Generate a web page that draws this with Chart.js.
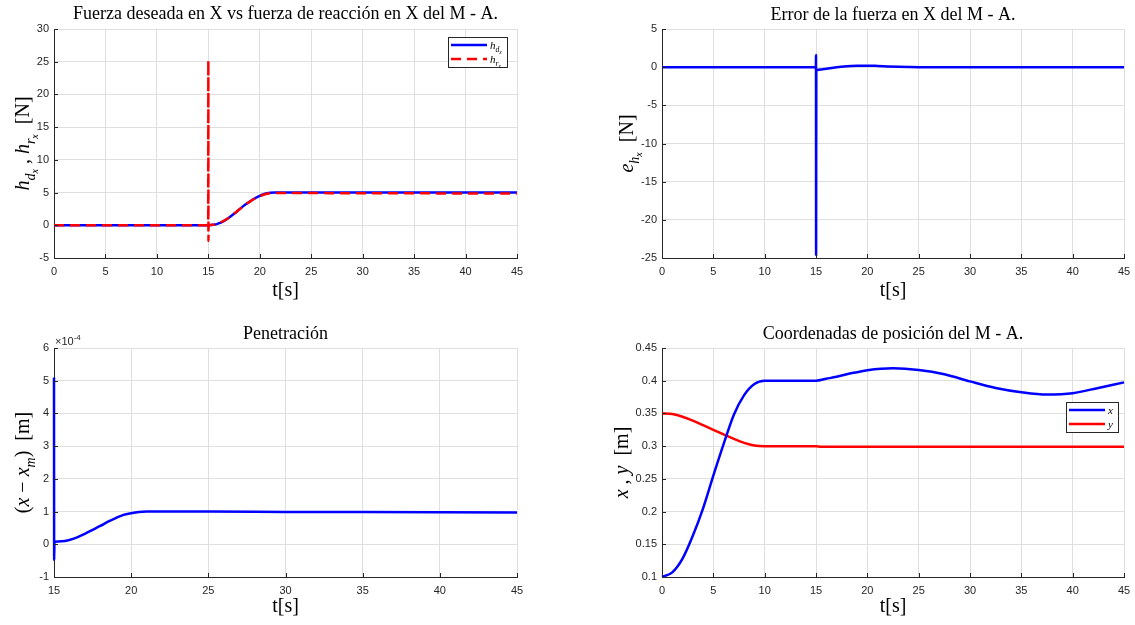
<!DOCTYPE html>
<html>
<head>
<meta charset="utf-8">
<script src="https://cdn.jsdelivr.net/npm/chart.js@4/dist/chart.umd.min.js"></script>
<style>
  body { margin: 0; background: #fff; }
  #wrap { position: relative; width: 1135px; height: 625px; }
  canvas { position: absolute; }
</style>
</head>
<body>
<div id="wrap">
  <canvas id="c1" width="565" height="310" style="left:0;top:0"></canvas>
  <canvas id="c2" width="570" height="310" style="left:565px;top:0"></canvas>
  <canvas id="c3" width="565" height="315" style="left:0;top:310px"></canvas>
  <canvas id="c4" width="570" height="315" style="left:565px;top:310px"></canvas>
</div>
<script>
// --- datos ---
// fuerza deseada / reaccion en X
const tDes = [0, 15, 15.5, 16, 16.5, 17, 17.5, 18, 18.5, 19, 19.5, 20, 20.5, 21, 21.5, 45];
const hdx  = [0, 0, 0.07, 0.3, 0.65, 1.15, 1.75, 2.4, 3.05, 3.6, 4.1, 4.5, 4.82, 4.97, 5.0, 5.0];
const tReac = [0, 14.99, 15, 15.01, 15.03, 15.5, 16, 16.5, 17, 17.5, 18, 18.5, 19, 19.5, 20, 20.5, 21, 21.5, 30, 45];
const hrx   = [0, 0, 25.2, -2.4, 0.03, 0.1, 0.32, 0.66, 1.15, 1.75, 2.4, 3.02, 3.58, 4.07, 4.45, 4.75, 4.9, 4.93, 4.9, 4.85];

// error de la fuerza
const tErr = [0, 14.99, 15, 15.01, 15.03, 15.5, 16, 16.5, 17, 18, 19, 20, 21, 22, 23, 24, 25, 45];
const ehx  = [0, 0, 1.6, -24.6, -0.42, -0.3, -0.2, -0.1, 0, 0.12, 0.18, 0.2, 0.16, 0.1, 0.05, 0.02, 0, 0];

// penetracion
const tPen = [15, 15.01, 15.03, 15.5, 16, 16.5, 17, 17.5, 18, 18.5, 19, 19.5, 20, 20.5, 21, 25, 30, 35, 40, 45];
const pen  = [5.1e-4, -0.48e-4, 0.08e-4, 0.09e-4, 0.13e-4, 0.21e-4, 0.32e-4, 0.44e-4, 0.56e-4, 0.69e-4,
              0.8e-4, 0.9e-4, 0.95e-4, 0.985e-4, 1.0e-4, 1.0e-4, 0.99e-4, 0.985e-4, 0.98e-4, 0.975e-4];

// coordenadas de posicion
const tPosX = [0, 1, 2, 3, 4, 5, 6, 7, 8, 9, 10, 15, 16, 17, 18, 19, 20, 22.5, 25, 27.5, 30, 32.5, 35, 37.5, 40, 42.5, 45];
const posX  = [0.1, 0.107, 0.128, 0.163, 0.205, 0.255, 0.303, 0.348, 0.378, 0.395, 0.4, 0.4, 0.403, 0.406, 0.41, 0.413,
               0.416, 0.419, 0.4165, 0.41, 0.399, 0.389, 0.3825, 0.379, 0.381, 0.389, 0.3975];
const tPosY = [0, 1, 2, 3, 4, 5, 6, 7, 8, 9, 10, 15, 15.5, 45];
const posY  = [0.35, 0.349, 0.345, 0.339, 0.332, 0.325, 0.318, 0.311, 0.305, 0.301, 0.3, 0.3, 0.299, 0.299];

// ticks
const ticksT45 = [0, 5, 10, 15, 20, 25, 30, 35, 40, 45];
const ticksT15 = [15, 20, 25, 30, 35, 40, 45];
const ticksF = [-5, 0, 5, 10, 15, 20, 25, 30];
const ticksE = [-25, -20, -15, -10, -5, 0, 5];
const ticksPen = [-1e-4, 0, 1e-4, 2e-4, 3e-4, 4e-4, 5e-4, 6e-4];
const ticksPos = [0.1, 0.15, 0.2, 0.25, 0.3, 0.35, 0.4, 0.45];

const SERIF = '"Liberation Serif", "DejaVu Serif", serif';
const SANS = '"Liberation Sans", Arial, sans-serif';
const GRID = '#dfdfdf';
const AXIS = '#262626';
const LW = 2.5;

Chart.defaults.font.family = SANS;

const pts = (xs, ys) => xs.map((x, i) => ({ x: x, y: ys[i] }));

// texto con subindices (tipo LaTeX)
function drawMath(ctx, parts, x, y, base, align, rotate) {
    const kinds = {
        r: { k: 1, dy: 0, it: false },
        i: { k: 1, dy: 0, it: true },
        s: { k: 0.7, dy: 0.28, it: true },
        ss: { k: 0.5, dy: 0.45, it: true }
    };
    const fontFor = kind => (kinds[kind].it ? 'italic ' : '') + (base * kinds[kind].k).toFixed(1) + 'px ' + SERIF;
    ctx.save();
    ctx.translate(x, y);
    if (rotate) ctx.rotate(-Math.PI / 2);
    let total = 0;
    parts.forEach(([t, kind]) => { ctx.font = fontFor(kind); total += ctx.measureText(t).width; });
    let cx = align === 'center' ? -total / 2 : 0;
    ctx.textBaseline = 'alphabetic';
    ctx.fillStyle = '#000';
    parts.forEach(([t, kind]) => {
        ctx.font = fontFor(kind);
        ctx.fillText(t, cx, base * 0.35 + base * kinds[kind].dy);
        cx += ctx.measureText(t).width;
    });
    ctx.restore();
}

const panelDecor = {
    id: 'panelDecor',
    afterDatasetsDraw(chart, args, opts) {
        const { ctx, chartArea: a, scales } = chart;
        ctx.save();
        // ticks hacia dentro (estilo MATLAB)
        ctx.strokeStyle = AXIS;
        ctx.lineWidth = 1;
        ctx.beginPath();
        scales.x.ticks.forEach(t => {
            const px = Math.round(scales.x.getPixelForValue(t.value)) + 0.5;
            ctx.moveTo(px, a.bottom);
            ctx.lineTo(px, a.bottom - 4);
        });
        scales.y.ticks.forEach(t => {
            const py = Math.round(scales.y.getPixelForValue(t.value)) + 0.5;
            ctx.moveTo(a.left, py);
            ctx.lineTo(a.left + 4, py);
        });
        ctx.stroke();

        // titulo
        ctx.fillStyle = '#000';
        ctx.font = '18px ' + SERIF;
        ctx.textAlign = 'center';
        ctx.textBaseline = 'middle';
        ctx.fillText(opts.title, (a.left + a.right) / 2, opts.titleY);
        ctx.textAlign = 'left';

        // etiqueta eje y
        drawMath(ctx, opts.yLabel, opts.yLabelX, (a.top + a.bottom) / 2 + opts.yLabelDy, 20, 'center', true);

        // exponente
        if (opts.exponent) {
            ctx.fillStyle = AXIS;
            ctx.textBaseline = 'alphabetic';
            ctx.font = '11px ' + SANS;
            ctx.fillText('\u00d710', a.left + 1, a.top - 3);
            const w = ctx.measureText('\u00d710').width;
            ctx.font = '8px ' + SANS;
            ctx.fillText(opts.exponent, a.left + 1 + w, a.top - 8);
        }

        // leyenda
        const lg = opts.legend;
        if (lg) {
            const x0 = Math.round(a.right - lg.right - lg.w), y0 = Math.round(a.top + lg.top);
            ctx.fillStyle = '#fff';
            ctx.fillRect(x0, y0, lg.w, lg.h);
            ctx.strokeStyle = AXIS;
            ctx.lineWidth = 1;
            ctx.strokeRect(x0 + 0.5, y0 + 0.5, lg.w, lg.h);
            chart.data.datasets.forEach((ds, i) => {
                const y = y0 + 8 + i * 14;
                ctx.strokeStyle = ds.borderColor;
                ctx.lineWidth = ds.borderWidth;
                ctx.setLineDash(ds.borderDash || []);
                ctx.beginPath();
                ctx.moveTo(x0 + 3, y);
                ctx.lineTo(x0 + 39, y);
                ctx.stroke();
                ctx.setLineDash([]);
                drawMath(ctx, lg.labels[i], x0 + 42, y, 11, 'left', false);
            });
        }
        ctx.restore();
    }
};

function makePanel(id, datasets, p) {
    return new Chart(document.getElementById(id), {
        type: 'line',
        data: { datasets: datasets },
        plugins: [panelDecor],
        options: {
            responsive: false,
            animation: false,
            devicePixelRatio: 1,
            layout: { padding: { left: 0, right: p.padRight, top: p.padTop, bottom: 0 } },
            elements: { point: { radius: 0 }, line: { cubicInterpolationMode: 'monotone' } },
            datasets: { line: { clip: false } },
            plugins: {
                legend: { display: false },
                tooltip: { enabled: false },
                title: { display: false },
                panelDecor: p.decor
            },
            scales: {
                x: {
                    type: 'linear',
                    min: p.xTicks[0],
                    max: p.xTicks[p.xTicks.length - 1],
                    afterBuildTicks: s => { s.ticks = p.xTicks.map(v => ({ value: v })); },
                    afterFit: s => { s.height = p.xAxisH; s.paddingLeft = 0; s.paddingRight = 0; },
                    grid: { color: GRID, drawTicks: false },
                    border: { color: AXIS, width: 1 },
                    ticks: { color: AXIS, font: { size: 11 }, padding: 7, maxRotation: 0, autoSkip: false },
                    title: {
                        display: true, text: 't[s]', color: '#000',
                        font: { family: SERIF, size: 20 },
                        padding: { top: 0, bottom: p.xTitleBottom }
                    }
                },
                y: {
                    type: 'linear',
                    min: p.yTicks[0],
                    max: p.yTicks[p.yTicks.length - 1],
                    afterBuildTicks: s => { s.ticks = p.yTicks.map(v => ({ value: v })); },
                    afterFit: s => { s.width = p.yAxisW; s.paddingTop = 0; s.paddingBottom = 0; },
                    grid: { color: GRID, drawTicks: false },
                    border: { color: AXIS, width: 1 },
                    ticks: { color: AXIS, font: { size: 11 }, padding: 5, callback: p.yFmt || (v => v) }
                }
            }
        }
    });
}

makePanel('c1', [
    { data: pts(tDes, hdx), borderColor: '#0000ff', borderWidth: LW, order: 1 },
    { data: pts(tReac, hrx), borderColor: '#ff0000', borderWidth: LW, borderDash: [10, 6], order: 0 }
], {
    padRight: 48, padTop: 29, xAxisH: 52, yAxisW: 54, xTitleBottom: 7,
    xTicks: ticksT45, yTicks: ticksF,
    decor: {
        title: 'Fuerza deseada en X vs fuerza de reacci\u00f3n en X del M - A.', titleY: 14,
        yLabel: [['h', 'i'], ['d', 's'], ['x', 'ss'], [' , ', 'r'], ['h', 'i'], ['r', 's'], ['x', 'ss'], ['  [N]', 'r']],
        yLabelX: 22, yLabelDy: 0,
        legend: { right: 10, top: 8, w: 59, h: 30,
            labels: [[['h', 'i'], ['d', 's'], ['x', 'ss']], [['h', 'i'], ['r', 's'], ['x', 'ss']]] }
    }
});

makePanel('c2', [
    { data: pts(tErr, ehx), borderColor: '#0000ff', borderWidth: LW }
], {
    padRight: 11, padTop: 29, xAxisH: 52, yAxisW: 97, xTitleBottom: 7,
    xTicks: ticksT45, yTicks: ticksE,
    decor: {
        title: 'Error de la fuerza en X del M - A.', titleY: 15,
        yLabel: [['e', 'i'], ['h', 's'], ['x', 'ss'], ['  [N]', 'r']],
        yLabelX: 61, yLabelDy: 0
    }
});

makePanel('c3', [
    { data: pts(tPen, pen), borderColor: '#0000ff', borderWidth: LW }
], {
    padRight: 48, padTop: 38, xAxisH: 48, yAxisW: 54, xTitleBottom: 6,
    xTicks: ticksT15, yTicks: ticksPen,
    yFmt: v => Math.round(v * 1e4),
    decor: {
        title: 'Penetraci\u00f3n', titleY: 24,
        yLabel: [['(', 'r'], ['x', 'i'], [' \u2212 ', 'r'], ['x', 'i'], ['m', 's'], [')', 'r'], ['  [m]', 'r']],
        yLabelX: 22, yLabelDy: 0,
        exponent: '-4'
    }
});

makePanel('c4', [
    { data: pts(tPosX, posX), borderColor: '#0000ff', borderWidth: LW },
    { data: pts(tPosY, posY), borderColor: '#ff0000', borderWidth: LW }
], {
    padRight: 11, padTop: 38, xAxisH: 48, yAxisW: 97, xTitleBottom: 6,
    xTicks: ticksT45, yTicks: ticksPos,
    yFmt: v => String(+v.toFixed(2)),
    decor: {
        title: 'Coordenadas de posici\u00f3n del M - A.', titleY: 24,
        yLabel: [['x', 'i'], [' , ', 'r'], ['y', 'i'], ['  [m]', 'r']],
        yLabelX: 56, yLabelDy: 0,
        legend: { right: 6, top: 54, w: 52, h: 30, labels: [[['x', 'i']], [['y', 'i']]] }
    }
});
</script>
</body>
</html>
